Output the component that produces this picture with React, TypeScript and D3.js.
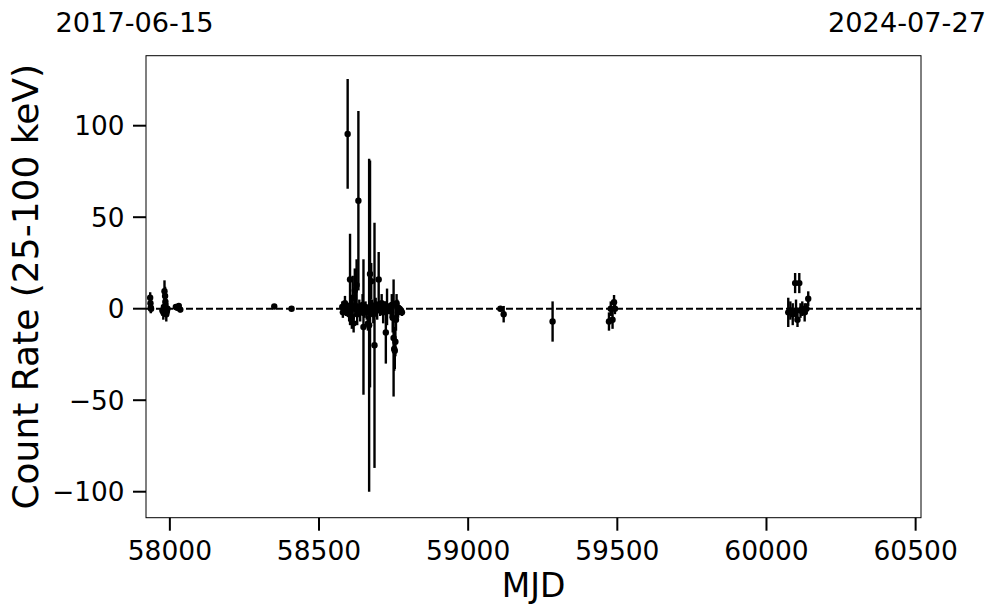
import React from "react";
import * as d3 from "d3";

// MJD of each observation
const mjd: number[] = [
  57934, 57935, 57936, 57937, 57975, 57978, 57980, 57982, 57984, 57985, 57988, 57990, 57992, 58020, 58025, 58030, 58035,
  58350, 58408,
  58578, 58580, 58583, 58587, 58590, 58596, 58598, 58601, 58604, 58607, 58610, 58613, 58616, 58620, 58622, 58626, 58628,
  58632, 58635, 58638, 58642, 58646, 58649, 58653, 58656, 58660, 58664, 58668, 58671, 58675, 58678, 58682, 58686, 58690,
  58695, 58700, 58705, 58710, 58715, 58720, 58724, 58728, 58735, 58740, 58744, 58747, 58750, 58752, 58754, 58756, 58758,
  58760, 58762, 58765, 58770, 58775, 58778,
  59108, 59119, 59283, 59472, 59478, 59484, 59489, 59492,
  60073, 60080, 60088, 60096, 60099, 60104, 60110, 60114, 60120, 60128, 60134, 60140,
];
// count rate (25-100 keV)
const rate: number[] = [
  6.0, 3.0, 0.5, 0, -1, -2, 1, 9.5, 7, 3.8, -3, -1.5, 0, 1, 0.5, 1.5, -0.5,
  1.2, 0,
  1, -2, 0, 3, -1, 95.5, 0, -3, 16, 2, -5, 6, -8, 10, 0, 13, -3,
  59, 1, -2, 0, 2, -10, -1, 1, -2, -8, -9, 19, 15, 1, -3, -20, 2,
  -1, 16, 0, 3, -2, 1, -13, 1, 0, -1, 2, -5, -16, -22, -23, -18, -6,
  3, 1, -2, 0, -1, -2,
  0, -3, -7, -7, 0, -6, 3.5, 0,
  -2, -1, -3, 14, -1, -6, 14, -1, 0, -2, 0, 5.5,
];
// 1-sigma uncertainty
const err: number[] = [
  3, 3, 3, 2, 3, 4, 3, 6, 5, 4, 4, 3, 3, 1.5, 1.5, 1.5, 1.5,
  1, 1,
  3, 3, 2, 4, 3, 30, 3, 4, 25, 5, 6, 12, 5, 12, 4, 14, 6,
  49, 4, 5, 3, 6, 37, 4, 3, 4, 4, 91, 62, 10, 4, 5, 67, 4,
  5, 15, 4, 5, 6, 3, 17, 10, 3, 4, 6, 8, 32, 12, 10, 8, 6,
  5, 4, 3, 2, 2, 2,
  1.5, 4.5, 11, 5, 4, 5, 4, 3,
  8, 5, 6, 5.5, 6, 4, 5.5, 4, 4, 5, 3, 4,
];

const xTicks: number[] = [58000, 58500, 59000, 59500, 60000, 60500];
const yTicks: number[] = [-100, -50, 0, 50, 100];
const startLabel = "2017-06-15";
const endLabel = "2024-07-27";

const W = 997;
const H = 613;
const L = 146;
const R = 921;
const T = 55.7;
const B = 517.7;
const FONT = "DejaVu Sans";

export default function App() {
  const x = d3.scaleLinear().domain([57920, 60518]).range([L, R]);
  const y = d3.scaleLinear().domain([-114.2, 138.25]).range([B, T]);
  const pts = mjd.map((m, i) => ({ m, v: rate[i], e: err[i] }));
  const tickFmt = (v: number) => (v < 0 ? "\u2212" + Math.abs(v) : String(v));
  return (
    <svg width={W} height={H} style={{ position: "absolute", left: 0, top: 0, background: "#fff" }}>
      <rect x={0} y={0} width={W} height={H} fill="#fff" />
      <defs>
        <clipPath id="plotclip">
          <rect x={L} y={T} width={R - L} height={B - T} />
        </clipPath>
      </defs>
      <g clipPath="url(#plotclip)">
        <line x1={L} x2={R} y1={y(0)} y2={y(0)} stroke="#000" strokeWidth={2} strokeDasharray="7,3" />
        {pts.map((p, i) => (
          <line key={"e" + i} x1={x(p.m)} x2={x(p.m)} y1={y(p.v - p.e)} y2={y(p.v + p.e)} stroke="#000" strokeWidth={2.4} />
        ))}
        {pts.map((p, i) => (
          <circle key={"c" + i} cx={x(p.m)} cy={y(p.v)} r={3.2} fill="#000" />
        ))}
      </g>
      <rect x={L} y={T} width={R - L} height={B - T} fill="none" stroke="#000" strokeWidth={1} />
      {xTicks.map((t) => (
        <g key={"xt" + t}>
          <line x1={x(t)} x2={x(t)} y1={B} y2={B + 13} stroke="#000" strokeWidth={2} />
          <text x={x(t)} y={B + 42} textAnchor="middle" fontFamily={FONT} fontSize={26.5} fill="#000">
            {t}
          </text>
        </g>
      ))}
      {yTicks.map((t) => (
        <g key={"yt" + t}>
          <line x1={L - 13} x2={L} y1={y(t)} y2={y(t)} stroke="#000" strokeWidth={2} />
          <text x={L - 21.5} y={y(t) + 9.6} textAnchor="end" fontFamily={FONT} fontSize={26.3} fill="#000">
            {tickFmt(t)}
          </text>
        </g>
      ))}
      <text x={(L + R) / 2} y={597} textAnchor="middle" fontFamily={FONT} fontSize={33} fill="#000">
        MJD
      </text>
      <text
        transform={`translate(${38},${(T + B) / 2}) rotate(-90)`}
        textAnchor="middle"
        fontFamily={FONT}
        fontSize={36}
        fill="#000"
      >
        Count Rate (25-100 keV)
      </text>
      <text x={55.5} y={32} fontFamily={FONT} fontSize={27.2} fill="#000">
        {startLabel}
      </text>
      <text x={986} y={32} textAnchor="end" fontFamily={FONT} fontSize={27.2} fill="#000">
        {endLabel}
      </text>
    </svg>
  );
}
